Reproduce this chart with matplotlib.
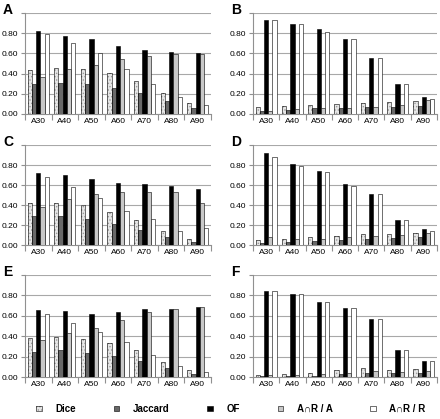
import numpy as np
import matplotlib
matplotlib.use('Agg')
import matplotlib.pyplot as plt
from matplotlib import rcParams

rcParams['font.family'] = ['Liberation Sans', 'DejaVu Sans']
rcParams['hatch.linewidth'] = 0.6

groups = ['A30', 'A40', 'A50', 'A60', 'A70', 'A80', 'A90']
series = ['Dice', 'Jaccard', 'OF', 'A\u2229R / A', 'A\u2229R / R']

# panel -> [Dice, Jaccard, OF, AnR/A, AnR/R]
dice_A = [0.44, 0.46, 0.45, 0.41, 0.33, 0.21, 0.11]
jacc_A = [0.30, 0.31, 0.30, 0.26, 0.21, 0.13, 0.06]
of_A = [0.82, 0.77, 0.74, 0.67, 0.63, 0.61, 0.60]
ra_A = [0.37, 0.45, 0.49, 0.54, 0.57, 0.59, 0.59]
rr_A = [0.79, 0.70, 0.60, 0.45, 0.30, 0.17, 0.09]

dice_B = [0.07, 0.08, 0.09, 0.10, 0.11, 0.12, 0.13]
jacc_B = [0.03, 0.04, 0.06, 0.06, 0.07, 0.07, 0.08]
of_B = [0.93, 0.89, 0.84, 0.74, 0.55, 0.30, 0.17]
ra_B = [0.03, 0.05, 0.06, 0.06, 0.07, 0.09, 0.14]
rr_B = [0.93, 0.89, 0.81, 0.74, 0.55, 0.30, 0.15]

dice_C = [0.42, 0.42, 0.40, 0.33, 0.25, 0.14, 0.06]
jacc_C = [0.29, 0.29, 0.26, 0.21, 0.15, 0.08, 0.03]
of_C = [0.72, 0.70, 0.66, 0.62, 0.61, 0.59, 0.56]
ra_C = [0.38, 0.46, 0.51, 0.53, 0.53, 0.53, 0.42]
rr_C = [0.68, 0.58, 0.47, 0.34, 0.26, 0.14, 0.17]

dice_D = [0.05, 0.06, 0.08, 0.09, 0.11, 0.11, 0.12]
jacc_D = [0.02, 0.03, 0.04, 0.05, 0.06, 0.07, 0.08]
of_D = [0.92, 0.81, 0.74, 0.61, 0.51, 0.25, 0.16]
ra_D = [0.08, 0.06, 0.06, 0.08, 0.09, 0.10, 0.12]
rr_D = [0.88, 0.79, 0.73, 0.59, 0.51, 0.25, 0.14]

dice_E = [0.38, 0.39, 0.37, 0.33, 0.26, 0.15, 0.07]
jacc_E = [0.25, 0.26, 0.24, 0.21, 0.16, 0.09, 0.03]
of_E = [0.66, 0.65, 0.62, 0.64, 0.67, 0.67, 0.69]
ra_E = [0.36, 0.43, 0.48, 0.56, 0.64, 0.67, 0.69]
rr_E = [0.62, 0.53, 0.44, 0.34, 0.22, 0.11, 0.05]

dice_F = [0.02, 0.03, 0.04, 0.07, 0.09, 0.07, 0.08]
jacc_F = [0.01, 0.01, 0.01, 0.03, 0.04, 0.04, 0.04]
of_F = [0.84, 0.81, 0.74, 0.68, 0.57, 0.26, 0.16]
ra_F = [0.02, 0.02, 0.03, 0.04, 0.06, 0.05, 0.06]
rr_F = [0.84, 0.81, 0.74, 0.68, 0.57, 0.26, 0.16]

panels = {
    'A': [dice_A, jacc_A, of_A, ra_A, rr_A],
    'B': [dice_B, jacc_B, of_B, ra_B, rr_B],
    'C': [dice_C, jacc_C, of_C, ra_C, rr_C],
    'D': [dice_D, jacc_D, of_D, ra_D, rr_D],
    'E': [dice_E, jacc_E, of_E, ra_E, rr_E],
    'F': [dice_F, jacc_F, of_F, ra_F, rr_F],
}

fills = ['#e6e6e6', '#686868', 'black', '#c8c8c8', 'white']

W, H = 440, 419
fig = plt.figure(figsize=(4.4, 4.19), dpi=100)

# axes boxes in pixels: left, top, right, bottom
lefts = [(25, 211), (253, 437)]
rows = [(13, 114), (145, 245), (275, 377)]

idx = np.arange(len(groups))
bw = 0.16
handles = None
for k, name in enumerate('ABCDEF'):
    r, c = divmod(k, 2)
    x0, x1 = lefts[c]
    y0, y1 = rows[r]
    ax = fig.add_axes([x0 / W, 1 - y1 / H, (x1 - x0) / W, (y1 - y0) / H])
    hs = []
    for j, vals in enumerate(panels[name]):
        xs = idx - 0.4 + bw * (j + 0.5)
        if j == 0:
            # light dotted fill with grey dots, then a black outline on top
            b1 = ax.bar(xs, vals, bw, facecolor=fills[j], edgecolor='#9a9a9a',
                        hatch='.....', linewidth=0, zorder=3)
            b2 = ax.bar(xs, vals, bw, fill=False, edgecolor='black',
                        linewidth=0.4, zorder=4)
            hs.append((b1, b2))
        else:
            b = ax.bar(xs, vals, bw, facecolor=fills[j], edgecolor='black',
                       linewidth=0.4, zorder=3)
            hs.append(b)
    handles = hs
    ax.set_xlim(-0.5, len(groups) - 0.5)
    ax.set_ylim(0, 1.0)
    ax.set_yticks(np.arange(0, 1.01, 0.2))
    ax.set_yticklabels(['%.2f' % v for v in np.arange(0, 0.81, 0.2)] + [''])
    ax.yaxis.grid(True, color='#a8a8a8', linewidth=0.8, zorder=0)
    ax.set_axisbelow(True)
    ax.set_xticks(idx)
    ax.set_xticklabels(groups)
    ax.set_xticks(np.arange(-0.5, len(groups)), minor=True)
    ax.tick_params(axis='x', which='major', length=0, labelsize=6, pad=3)
    ax.tick_params(axis='x', which='minor', length=4, color='#909090', width=0.8)
    ax.tick_params(axis='y', length=3, color='#909090', labelsize=6, pad=2)
    for s in ['top', 'right']:
        ax.spines[s].set_visible(False)
    for s in ['left', 'bottom']:
        ax.spines[s].set_color('#909090')
        ax.spines[s].set_linewidth(0.8)
    fig.text((x0 - 22) / W, 1 - (y0 - 3) / H, name, fontsize=10,
             fontweight='bold', va='center', ha='left')

fig.legend(handles, series, loc='center', bbox_to_anchor=(0.525, 1 - 409 / H),
           ncol=5, frameon=False, handlelength=0.55, handleheight=0.55,
           columnspacing=3.9, handletextpad=1.4, prop={'size': 7, 'weight': 'bold'})

fig.savefig('out.png', dpi=100)
